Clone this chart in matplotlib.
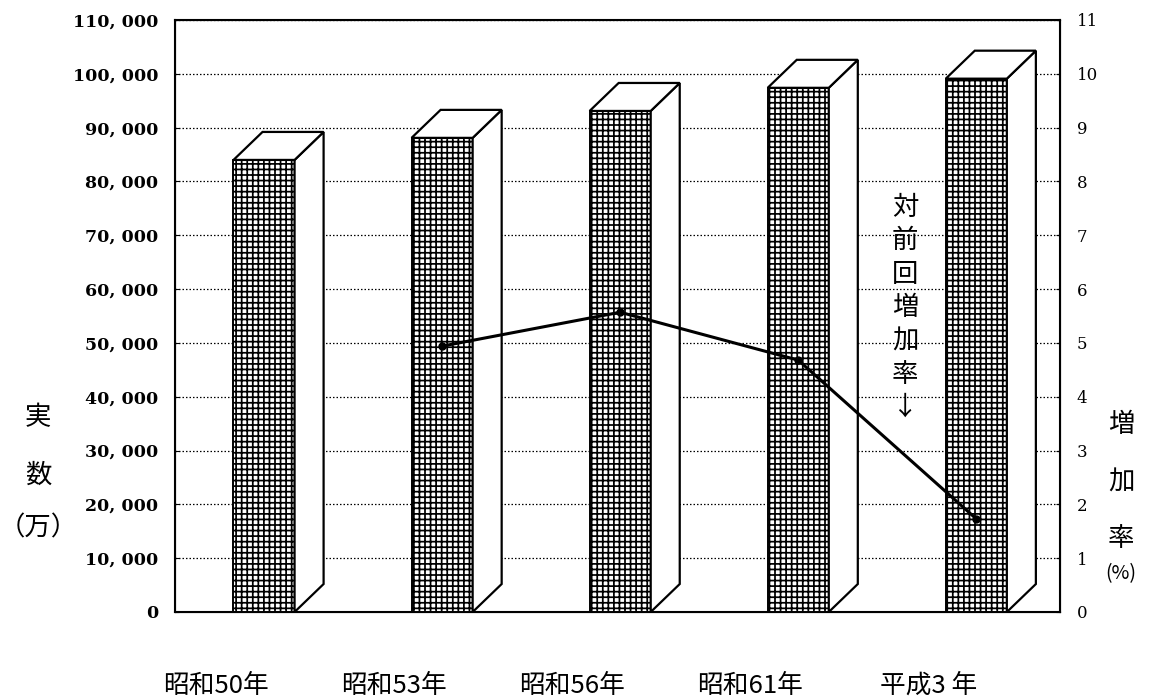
import numpy as np
import matplotlib
matplotlib.use("Agg")
import matplotlib.pyplot as plt
from matplotlib.patches import Polygon
from matplotlib.transforms import blended_transform_factory

plt.rcParams['font.family'] = ['Noto Sans CJK JP', 'DejaVu Sans']
plt.rcParams['hatch.linewidth'] = 1.25

categories = ["昭和50年", "昭和53年", "昭和56年", "昭和61年", "平成3 年"]
counts = [84000, 88100, 93100, 97400, 99100]          # 実数（万）
rate_categories = ["昭和53年", "昭和56年", "昭和61年", "平成3 年"]
rates = [4.94, 5.57, 4.68, 1.73]                        # 対前回増加率 (%)
left_ticks = list(range(0, 110001, 10000))
right_ticks = list(range(0, 12))

fig = plt.figure(figsize=(11.52, 7.0), dpi=100)
ax = fig.add_axes([175/1152, 1-612/700, (1060-175)/1152, (612-20)/700])

x = np.arange(len(categories))
w = 0.343
dx = 0.163
dy = 5200

ax.set_xlim(-0.5, 4.47)
ax.set_ylim(0, 110000)
ax.set_axisbelow(True)
ax.yaxis.grid(True, linestyle=(0, (1.2, 1.6)), color='black', linewidth=0.9)
ax.xaxis.grid(False)

ax.bar(x, counts, width=w, facecolor='white', edgecolor='black',
       hatch='+++', linewidth=1.4, zorder=3)
for xi, v in zip(x, counts):
    top = Polygon([(xi - w/2, v), (xi + w/2, v), (xi + w/2 + dx, v + dy),
                   (xi - w/2 + dx, v + dy)], closed=True, facecolor='white',
                  edgecolor='black', linewidth=1.6, zorder=3)
    side = Polygon([(xi + w/2, 0), (xi + w/2, v), (xi + w/2 + dx, v + dy),
                    (xi + w/2 + dx, dy)], closed=True, facecolor='white',
                   edgecolor='black', linewidth=1.6, zorder=3)
    ax.add_patch(side)
    ax.add_patch(top)

ax.set_yticks(left_ticks)
ax.set_yticklabels([f"{t:,}".replace(",", ", ") for t in left_ticks],
                   fontfamily='DejaVu Serif', fontweight='bold', fontsize=12.5)
ax.tick_params(axis='y', direction='in', length=3, pad=12)
ax.set_xticks([])
for s in ax.spines.values():
    s.set_linewidth(1.5)

trans = blended_transform_factory(ax.transData, fig.transFigure)
for xi, lab in zip(x, categories):
    ax.text(xi - 0.27, 1 - 686/700, lab, transform=trans, ha='center',
            va='center', fontsize=18.5)

ax2 = ax.twinx()
ax2.set_ylim(0, 11)
ax2.set_yticks(right_ticks)
ax2.set_yticklabels([str(t) for t in right_ticks], fontfamily='DejaVu Serif',
                    fontsize=12)
ax2.tick_params(axis='y', direction='in', length=3, pad=12)
rx = [categories.index(c) for c in rate_categories]
ax2.plot(rx, rates, color='black', linewidth=2.2, marker='o', markersize=5,
         zorder=5)

# left axis title
for txt, yy in [("実", 418), ("数", 475), ("（万）", 528)]:
    fig.text(38/1152, 1 - yy/700, txt, ha='center', va='center', fontsize=19)
# right axis title
for txt, yy, fs in [("増", 425, 19), ("加", 482, 19), ("率", 538, 19),
                    ("(%)", 574, 14)]:
    fig.text(1121/1152, 1 - yy/700, txt, ha='center', va='center', fontsize=fs)

fig.text(905/1152, 1 - 194/700, "対\n前\n回\n増\n加\n率\n↓", ha='center',
         va='top', fontsize=19, linespacing=1.3)

fig.savefig("out.png", dpi=100, facecolor='white')
